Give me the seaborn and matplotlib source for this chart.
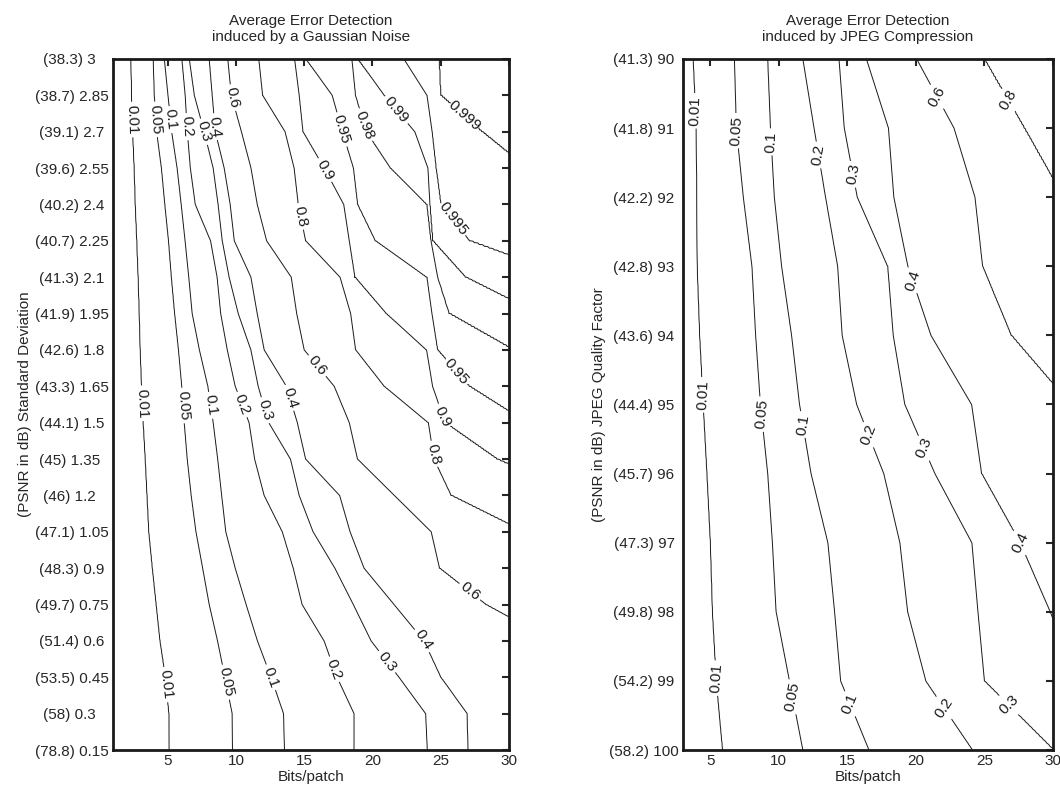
import matplotlib
matplotlib.use("Agg")
import matplotlib.pyplot as plt
import numpy as np
import seaborn as sns

nan = np.nan
bits_ticks = [5, 10, 15, 20, 25, 30]

# ---- Gaussian noise panel (rows listed bottom -> top) ----
noise_std = [0.15, 0.3, 0.45, 0.6, 0.75, 0.9, 1.05, 1.2, 1.35, 1.5,
             1.65, 1.8, 1.95, 2.1, 2.25, 2.4, 2.55, 2.7, 2.85, 3.0]
noise_psnr = ["78.8", "58", "53.5", "51.4", "49.7", "48.3", "47.1", "46", "45", "44.1",
              "43.3", "42.6", "41.9", "41.3", "40.7", "40.2", "39.6", "39.1", "38.7", "38.3"]
noise_levels = [0.01, 0.05, 0.1, 0.2, 0.3, 0.4, 0.6, 0.8, 0.9, 0.95, 0.98, 0.99, 0.995, 0.999]

# bits/patch where each detection level is reached, one value per row (nan = far past 30)
noise_x_001 = [5.12, 5.1, 4.85, 4.45, 4.17, 3.89, 3.63, 3.5, 3.37, 3.22,
               3.1, 3.0, 2.93, 2.85, 2.75, 2.64, 2.56, 2.45, 2.37, 2.32]
noise_x_005 = [9.75, 9.73, 9.2, 8.66, 8.05, 7.57, 7.08, 6.73, 6.44, 6.22,
               6.04, 5.8, 5.52, 5.28, 5.07, 4.8, 4.55, 4.2, 4.03, 3.95]
noise_x_01 = [13.56, 13.49, 12.58, 11.58, 10.75, 9.95, 9.26, 8.96, 8.67, 8.34,
              7.95, 7.33, 6.8, 6.55, 6.28, 6.0, 5.7, 5.3, 5.03, 4.76]
noise_x_02 = [18.65, 18.65, 17.41, 16.46, 14.85, 14.2, 13.4, 12.07, 11.37, 10.97,
              9.95, 9.37, 8.89, 8.63, 8.15, 7.02, 6.66, 6.44, 6.29, 6.05]
noise_x_03 = [24.02, 23.9, 21.95, 19.9, 18.6, 17.25, 15.65, 14.63, 14.0, 12.4,
              11.63, 11.1, 10.17, 9.5, 9.0, 8.7, 8.34, 7.68, 6.95, 6.58]
noise_x_04 = [26.99, 26.92, 25.0, 23.77, 21.58, 19.38, 18.36, 17.6, 15.1, 14.5,
              13.7, 12.07, 11.56, 11.1, 9.88, 9.58, 9.14, 8.49, 8.27, 8.05]
noise_x_06 = [nan, nan, nan, 33.2, 28.3, 24.9, 24.3, 21.6, 18.9, 18.3,
              17.2, 15.0, 14.45, 14.05, 12.25, 11.56, 11.1, 10.4, 9.66, 9.4]
noise_x_08 = [nan, nan, nan, nan, nan, nan, 31.1, 25.75, 24.5, 24.1,
              20.85, 18.76, 18.4, 17.63, 15.1, 14.56, 14.26, 13.6, 11.95, 11.67]
noise_x_09 = [nan, nan, nan, nan, nan, nan, nan, 35.0, 29.1, 25.3,
              24.4, 23.97, 21.0, 18.7, 18.3, 17.9, 16.46, 14.9, 14.63, 14.3]
noise_x_095 = [nan, nan, nan, nan, nan, nan, nan, nan, nan, 31.3,
               27.07, 24.76, 24.36, 24.0, 20.2, 18.9, 18.6, 17.8, 17.05, 15.1]
noise_x_098 = [nan, nan, nan, nan, nan, nan, nan, nan, nan, nan,
               nan, 30.3, 25.6, 24.76, 24.3, 24.0, 21.3, 19.53, 18.75, 18.5]
noise_x_099 = [nan, nan, nan, nan, nan, nan, nan, nan, nan, nan,
               nan, nan, 32.1, 26.8, 24.4, 24.2, 24.07, 23.1, 20.85, 18.9]
noise_x_0995 = [nan, nan, nan, nan, nan, nan, nan, nan, nan, nan,
                nan, nan, nan, 34.4, 27.07, 25.0, 24.65, 24.36, 24.0, 22.3]
noise_x_0999 = [nan, nan, nan, nan, nan, nan, nan, nan, nan, nan,
                nan, nan, nan, nan, nan, nan, 31.3, 28.0, 24.98, 24.87]

# ---- JPEG panel (rows listed quality 90 -> 100) ----
jpeg_quality = [90, 91, 92, 93, 94, 95, 96, 97, 98, 99, 100]
jpeg_psnr = ["41.3", "41.8", "42.2", "42.8", "43.6", "44.4", "45.7", "47.3", "49.8", "54.2", "58.2"]
jpeg_levels = [0.01, 0.05, 0.1, 0.2, 0.3, 0.4, 0.6, 0.8]

jpeg_x_001 = [3.76, 3.98, 4.01, 4.05, 4.23, 4.49, 4.76, 5.01, 5.16, 5.44, 5.9]
jpeg_x_005 = [6.76, 6.9, 7.41, 8.04, 8.31, 8.66, 9.19, 9.53, 9.8, 10.78, 11.75]
jpeg_x_01 = [9.19, 9.39, 9.67, 10.2, 10.93, 11.51, 12.35, 13.58, 14.07, 14.51, 16.58]
jpeg_x_02 = [11.75, 12.57, 13.41, 14.29, 14.62, 15.68, 17.66, 18.83, 19.4, 20.73, 24.14]
jpeg_x_03 = [14.39, 14.77, 15.72, 17.95, 18.35, 19.19, 21.39, 24.09, 24.53, 25.0, 30.05]
jpeg_x_04 = [16.39, 18.0, 18.39, 19.41, 21.1, 24.07, 24.79, 27.6, 29.8, 31.8, nan]
jpeg_x_06 = [20.05, 22.78, 24.31, 24.86, 26.95, 31.3, nan, nan, nan, nan, nan]
jpeg_x_08 = [24.97, 27.9, 30.75, nan, nan, nan, nan, nan, nan, nan, nan]

# where the inline labels sit (bits/patch, row value)
noise_label_pos = [(2.32, 2.75), (3.05, 1.58), (4.9, 0.42),
                   (4.02, 2.75), (5.98, 1.57), (9.27, 0.43),
                   (5.25, 2.75), (7.92, 1.57), (12.55, 0.45),
                   (6.22, 2.72), (10.24, 1.57), (17.56, 0.49),
                   (7.68, 2.70), (12.07, 1.55), (21.2, 0.52),
                   (8.42, 2.72), (13.77, 1.60), (23.65, 0.60),
                   (9.73, 2.84), (15.85, 1.73), (26.8, 0.78),
                   (14.63, 2.35), (24.4, 1.37),
                   (16.46, 2.54), (24.9, 1.52),
                   (17.8, 2.71), (25.6, 1.69),
                   (19.1, 2.72), (21.5, 2.78), (26.1, 2.35), (27.4, 2.81)]
jpeg_label_pos = [(3.98, 90.75), (4.56, 94.86), (5.44, 98.96),
                  (6.9, 91.04), (8.73, 95.14), (11.0, 99.23),
                  (9.46, 91.2), (11.73, 95.29), (14.95, 99.35),
                  (12.6, 91.4), (16.64, 95.43), (22.05, 99.39),
                  (15.39, 91.67), (20.73, 95.62), (26.5, 99.42),
                  (19.92, 93.19), (27.6, 97.0),
                  (21.6, 90.54), (26.3, 90.62)]


def build_grid(xs, ys, crossings, levels, steps=20):
    # crossings -> straight segments between measured rows -> surface on a fine grid
    cross = np.array(crossings, dtype=float)
    for k in range(len(levels)):
        cross[k][np.isnan(cross[k])] = 35.0 + 1.5 * k   # off the chart
    ys_fine = np.linspace(ys[0], ys[-1], (len(ys) - 1) * steps + 1)
    fine = np.array([np.interp(ys_fine, ys, c) for c in cross])
    grid = []
    for col in fine.T:
        px = np.concatenate([[0.0], col, [60.0]])
        pv = np.concatenate([[0.0], levels, [1.0]])
        grid.append(np.interp(xs, px, pv))
    return ys_fine, np.array(grid)


def draw_panel(ax, xs, ys, grid, levels, label_pos, title, ylabel, ticks, ticklabels):
    cs = ax.contour(xs, ys, grid, levels=levels, colors="k", linewidths=0.7)
    ax.clabel(cs, manual=label_pos, inline=True, inline_spacing=3, fmt="%g", fontsize=11)

    ax.set_xticks(bits_ticks)
    ax.set_yticks(ticks)
    width = max(len(s) for s in ticklabels)
    ax.set_yticklabels([s.ljust(width) for s in ticklabels])
    ax.set_title(title, fontsize=11, pad=13)
    ax.set_xlabel("Bits/patch", fontsize=11, labelpad=1)
    ax.set_ylabel(ylabel, fontsize=11, labelpad=2)
    ax.tick_params(direction="in", length=5, width=1.5, top=True, right=True,
                   labelsize=11, pad=3)
    for sp in ax.spines.values():
        sp.set_linewidth(2)
        sp.set_color("k")


sns.set_theme(style="white")
plt.rcParams["font.family"] = ["Liberation Sans", "DejaVu Sans"]

fig = plt.figure(figsize=(10.6, 7.88), dpi=100)
ax1 = fig.add_axes([0.1066, 0.0482, 0.3736, 0.877])
ax2 = fig.add_axes([0.6443, 0.0482, 0.349, 0.877])

noise_cross = [noise_x_001, noise_x_005, noise_x_01, noise_x_02, noise_x_03, noise_x_04, noise_x_06,
               noise_x_08, noise_x_09, noise_x_095, noise_x_098, noise_x_099, noise_x_0995, noise_x_0999]
xs1 = np.arange(1, 30.001, 0.05)
ys1, z1 = build_grid(xs1, noise_std, noise_cross, noise_levels)
labels1 = ["(%s) %g" % (p, s) for p, s in zip(noise_psnr, noise_std)]
draw_panel(ax1, xs1, ys1, z1, noise_levels, noise_label_pos,
           "Average Error Detection\ninduced by a Gaussian Noise",
           "(PSNR in dB) Standard Deviation", noise_std, labels1)
ax1.set_xlim(1, 30)
ax1.set_ylim(0.15, 3.0)

jpeg_cross = [jpeg_x_001, jpeg_x_005, jpeg_x_01, jpeg_x_02, jpeg_x_03, jpeg_x_04, jpeg_x_06, jpeg_x_08]
xs2 = np.arange(3, 30.001, 0.05)
ys2, z2 = build_grid(xs2, jpeg_quality, jpeg_cross, jpeg_levels)
labels2 = ["(%s) %d" % (p, q) for p, q in zip(jpeg_psnr, jpeg_quality)]
draw_panel(ax2, xs2, ys2, z2, jpeg_levels, jpeg_label_pos,
           "Average Error Detection\ninduced by JPEG Compression",
           "(PSNR in dB) JPEG Quality Factor", jpeg_quality, labels2)
ax2.set_xlim(3, 30)
ax2.set_ylim(100, 90)

fig.savefig("out.png", dpi=100)
